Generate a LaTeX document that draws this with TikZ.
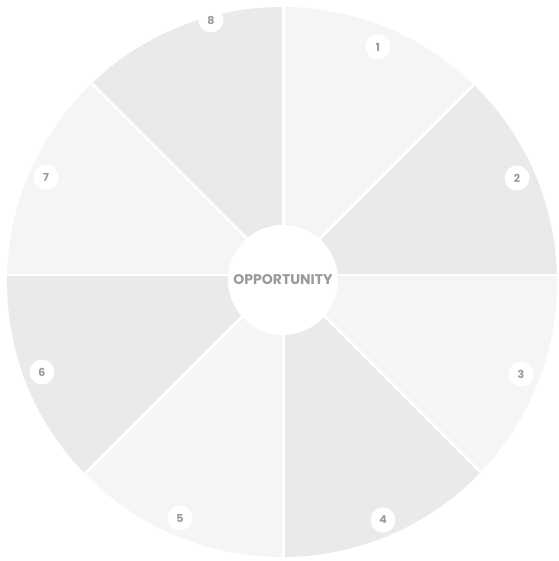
\documentclass[tikz,border=0pt]{standalone}
\usepackage{fontspec}
\setmainfont{Poppins}
\usetikzlibrary{positioning}
\definecolor{wedgeA}{HTML}{F4F5F4}
\definecolor{wedgeB}{HTML}{EAEAEA}
\definecolor{txtgray}{HTML}{9A9A9A}
\tikzset{
  wa/.style={fill=wedgeA},
  wb/.style={fill=wedgeB},
  gap/.style={draw=white,line width=2.6pt},
  num/.style={circle,fill=white,minimum size=25pt,inner sep=0pt,text=txtgray,
    font=\fontsize{11}{11}\selectfont\bfseries},
  hub/.style={circle,fill=white,minimum size=110pt,inner sep=0pt,text=txtgray,
    font=\fontsize{14}{14}\selectfont\bfseries},
}
\begin{document}
\begin{tikzpicture}[x=1pt,y=1pt]
\useasboundingbox (0,0) rectangle (558,561);
\coordinate (c) at (283.5,286);
\begin{scope}
  \clip (282,279) circle (275);
  % eight wedges, alternating shades, numbered clockwise from the top
  \foreach \a/\s in {45/wa,0/wb,-45/wa,-90/wb,-135/wa,180/wb,135/wa,90/wb}
    \fill[\s] (c) -- ++(\a:600) arc[start angle=\a,end angle=\a+45,radius=600] -- cycle;
  \foreach \a in {0,45,...,315}
    \draw[gap] (c) -- ++(\a:600);
\end{scope}
\node[hub] (opp) at (283,281) {OPPORTUNITY};
\node[num] (n1) at (378,514) {1};
\node[num] (n2) at (517,383) {2};
\node[num] (n3) at (521,187) {3};
\node[num] (n4) at (383,41) {4};
\node[num] (n5) at (180,43) {5};
\node[num] (n6) at (42,189) {6};
\node[num] (n7) at (46,384) {7};
\node[num] (n8) at (211,541) {8};
\end{tikzpicture}
\end{document}
